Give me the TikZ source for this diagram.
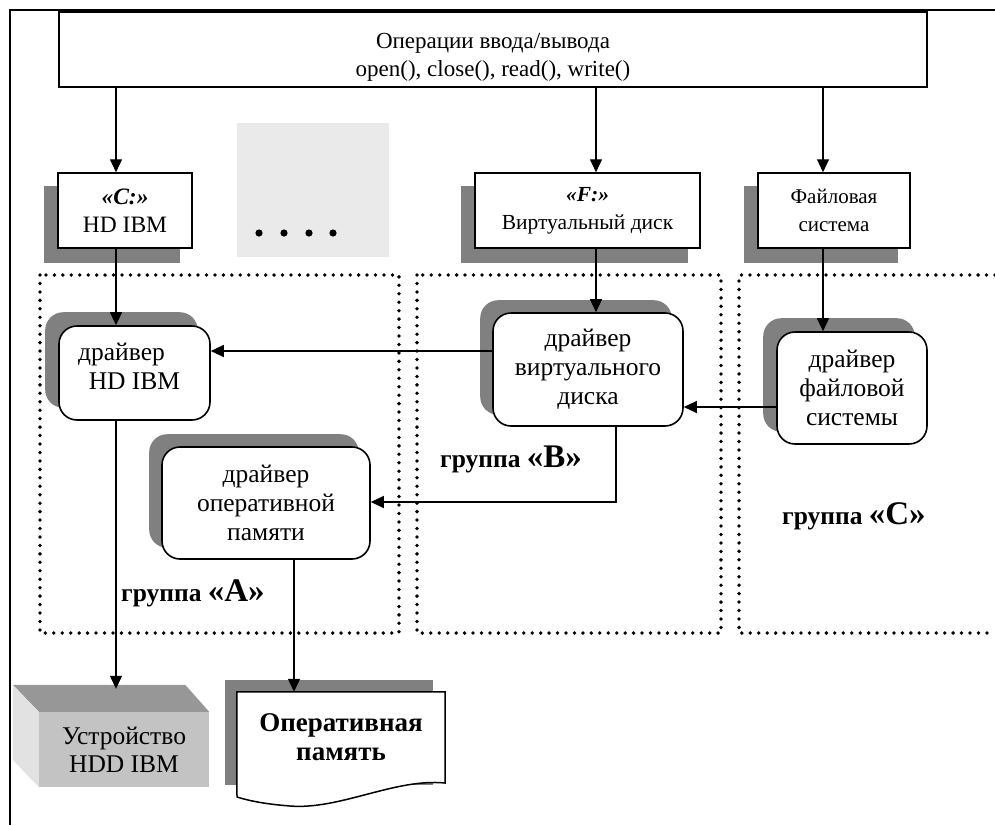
\documentclass[tikz,border=0pt]{standalone}
\usepackage{fontspec}
\setmainfont{Liberation Serif}
\usetikzlibrary{arrows.meta,backgrounds,calc}
\definecolor{shd}{HTML}{808080}
\definecolor{dotsbg}{HTML}{EAEAEA}
\definecolor{devfront}{HTML}{C3C3C3}
\definecolor{devtop}{HTML}{979797}
\definecolor{devside}{HTML}{E2E2E2}
\begin{document}
\begin{tikzpicture}[x=1pt,y=-1pt,
  arr/.style={line width=1.2pt,-{Triangle[length=13pt,width=12pt]}},
  sbox/.style={draw,line width=1.5pt,fill=white,inner sep=0pt,align=center,font=\fontsize{21.5}{28}\selectfont},
  drv/.style={draw,line width=1.6pt,fill=white,rounded corners=18pt,inner sep=0pt,align=center,font=\fontsize{25.5}{28.8}\selectfont},
  grp/.style={line width=3.8pt,line cap=round,dash pattern=on 0pt off 8.45pt},
  glabel/.style={anchor=west,inner sep=0pt,font=\fontsize{25.5}{28}\selectfont\bfseries},
  frame/.style={line width=2pt}
]
\useasboundingbox (0,0) rectangle (995,825);
% outer frame
\draw[frame] (995,10) -- (10,10) -- (10,825);

% top box
\node[sbox,font=\fontsize{23}{28}\selectfont,minimum width=868pt,minimum height=75pt] (top) at (493,49.5)
  {\raisebox{-7pt}[\height][\depth]{\begin{tabular}{@{}c@{}}Операции ввода/вывода\\open(), close(), read(), write()\end{tabular}}};

% drive boxes
\node[sbox,font=\fontsize{23.5}{28}\selectfont,minimum width=134pt,minimum height=75pt] (c) at (125,210.5)
  {\textbf{\textit{«C:»}}\\HD IBM};
\node[sbox,minimum width=225pt,minimum height=75pt] (f) at (587.5,210.5)
  {\textbf{\textit{«F:»}}\\Виртуальный диск};
\node[sbox,font=\fontsize{21}{28}\selectfont,minimum width=152pt,minimum height=75pt] (fsb) at (834,210.5)
  {Файловая\\система};

% placeholder
\fill[dotsbg] (237,123) rectangle (389,257);
\foreach \dx in {259,284,309,333} \fill (\dx,233) circle (3.6pt);

% groups
\draw[grp] (40,275) rectangle (399,633);
\draw[grp] (417,275) rectangle (721,633);
\draw[grp] (995,275) -- (739,275) -- (739,633) -- (995,633);

% drivers
\node[drv,minimum width=151pt,minimum height=94pt] (hd) at (134.5,373)
  {\raisebox{4pt}[\height][\depth]{\begin{tabular}{@{}c@{}}драйвер\hspace*{26pt}\\HD IBM\end{tabular}}};
\node[drv,minimum width=190pt,minimum height=113pt] (virt) at (588,369.5)
  {драйвер\\виртуального\\диска};
\node[drv,minimum width=150pt,minimum height=112pt] (fsd) at (852,388)
  {драйвер\\файловой\\системы};
\node[drv,minimum width=208pt,minimum height=112pt] (ram) at (266,503)
  {драйвер\\оперативной\\памяти};

% group labels
\node[glabel] (ga) at (121,593) {группа {\fontsize{33}{33}\selectfont«А»}};
\node[glabel] (gb) at (440,459) {группа {\fontsize{33}{33}\selectfont«В»}};
\node[glabel] (gc) at (782,516) {группа {\fontsize{33}{33}\selectfont«С»}};

% device
\node[fill=devfront,minimum width=170pt,minimum height=75pt,inner sep=0pt,align=center,
  font=\fontsize{25.5}{28}\selectfont] (dev) at (124,749.5) {Устройство\\HDD IBM};
\fill[devtop] (dev.north west) -- (dev.north east) -- ++(-24,-27) -- ($(dev.north west)+(-26,-27)$) -- cycle;
\fill[devside] (dev.north west) -- ++(-26,-27) -- ++(0,75) -- (dev.south west) -- cycle;

% memory
\node[minimum width=208pt,minimum height=90pt,inner sep=0pt,align=center,
  font=\fontsize{27}{29}\selectfont\bfseries] (mem) at (341,737) {Оперативная\\память};

\begin{scope}[on background layer]
  \foreach \n in {c,f,fsb}
    \fill[shd] ([shift={(-13,14)}]\n.south west) rectangle ([shift={(-13,14)}]\n.north east);
  \foreach \n/\s in {hd/13,virt/12,fsd/13,ram/12}
    \fill[shd,rounded corners=18pt] ([shift={(-\s,-\s)}]\n.south west) rectangle ([shift={(-\s,-\s)}]\n.north east);
  \fill[shd] ([shift={(-12,-12)}]mem.north west) rectangle ([shift={(-12,3)}]mem.south east);
  \filldraw[fill=white,line width=1.5pt] (mem.north west) -- (mem.north east) -- (445,783)
    .. controls (395,778) and (340,810) .. (290,806)
    .. controls (265,804) and (250,801) .. (237,797) -- cycle;
\end{scope}

% connectors
\coordinate (xc) at (116,0);
\coordinate (xf) at (596,0);
\coordinate (xfs) at (823,0);
\coordinate (xv) at (616,0);
\coordinate (xr) at (294,0);
\coordinate (y1) at (0,351);
\coordinate (y2) at (0,407);
\coordinate (y3) at (0,502);

\draw[arr] (top.south -| xc) -- (c.north -| xc);
\draw[arr] (top.south -| xf) -- (f.north -| xf);
\draw[arr] (top.south -| xfs) -- (fsb.north -| xfs);
\draw[arr] (c.south -| xc) -- (hd.north -| xc);
\draw[arr] (f.south -| xf) -- (virt.north -| xf);
\draw[arr] (fsb.south -| xfs) -- (fsd.north -| xfs);
\draw[arr] (virt.west |- y1) -- (hd.east |- y1);
\draw[arr] (fsd.west |- y2) -- (virt.east |- y2);
\draw[arr] (virt.south -| xv) -- (xv |- y3) -- (ram.east |- y3);
\draw[arr] (hd.south -| xc) -- ($(dev.north -| xc)+(0,-23)$);
\draw[arr] (ram.south -| xr) -- (mem.north -| xr);
\end{tikzpicture}
\end{document}
